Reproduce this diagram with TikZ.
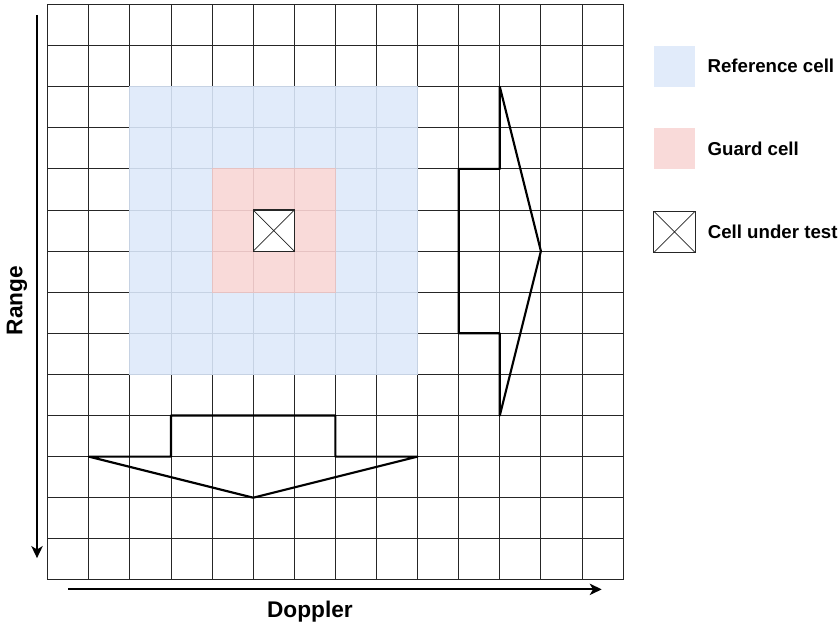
\documentclass[tikz,border=0pt]{standalone}
\usepackage{fontspec}
\setmainfont{Liberation Sans}
\usepackage{tikz}
\usetikzlibrary{arrows.meta,positioning}

\definecolor{refFill}{HTML}{E1EBFA}
\definecolor{refLine}{HTML}{C6D2E3}
\definecolor{guardFill}{HTML}{F9DAD9}
\definecolor{guardLine}{HTML}{E6C2C2}

\begin{document}
\begin{tikzpicture}[
    x=30.825pt, y=-30.825pt,
    node distance=30.825pt,
    gridline/.style={draw=black!85, line width=0.7pt, line cap=rect},
    blockarrow/.style={draw=black, line width=1.6pt, line join=round},
    axis/.style={-{Stealth[length=9pt,width=8.5pt,inset=2.5pt]}, line width=1.5pt},
    axislabel/.style={font=\bfseries\fontsize{17}{20}\selectfont, inner sep=0pt},
    keybox/.style={rectangle, minimum size=30.825pt, inner sep=0pt},
    cutcell/.style={keybox, draw=black!85, line width=0.8pt, fill=white,
        path picture={\draw[black!85, line width=0.5pt]
            (path picture bounding box.north west) -- (path picture bounding box.south east)
            (path picture bounding box.north east) -- (path picture bounding box.south west);}},
    legtext/.style={font=\bfseries\fontsize{14}{16}\selectfont, inner sep=0pt}
]
\useasboundingbox (-1.1606,-0.1095) rectangle (19.277,15.146);

% range-doppler map
\foreach \k in {0,...,14}
    \draw[gridline] (\k,0) -- (\k,14) (0,\k) -- (14,\k);
\fill[refFill] (2,2) rectangle (9,9);
\foreach \k in {2,...,9}
    \draw[gridline, draw=refLine] (\k,2) -- (\k,9) (2,\k) -- (9,\k);
\fill[guardFill] (4,4) rectangle (7,7);
\foreach \k in {4,...,7}
    \draw[gridline, draw=guardLine] (\k,4) -- (\k,7) (4,\k) -- (7,\k);
\node[cutcell] (cut) at (5.5,5.5) {};

% sliding directions
\draw[blockarrow] (10,4) -- (11,4) -- (11,2) -- (12,6) -- (11,10) -- (11,8) -- (10,8) -- cycle;
\draw[blockarrow] (3,10) -- (7,10) -- (7,11) -- (9,11) -- (5,12) -- (1,11) -- (3,11) -- cycle;

% axes
\coordinate (rangestart) at (-0.26,0.25);
\coordinate (rangeend) at (-0.26,13.47);
\coordinate (dopplerstart) at (0.5,14.23);
\coordinate (dopplerend) at (13.48,14.23);
\draw[axis] (rangestart) -- (rangeend);
\draw[axis] (dopplerstart) -- (dopplerend);
\node[axislabel, rotate=90] (range) at (-0.75,7.2) {Range};
\node[axislabel] (doppler) at (6.38,14.76) {Doppler};

% legend
\node[keybox, fill=refFill] (refkey) at (15.25,1.5) {};
\node[keybox, fill=guardFill, below=of refkey] (guardkey) {};
\node[cutcell, below=of guardkey] (cutkey) {};
\node[legtext, right=9pt of refkey] (reftext) {Reference cell};
\node[legtext, right=9pt of guardkey] (guardtext) {Guard cell};
\node[legtext, right=9pt of cutkey] (cuttext) {Cell under test};
\end{tikzpicture}
\end{document}
